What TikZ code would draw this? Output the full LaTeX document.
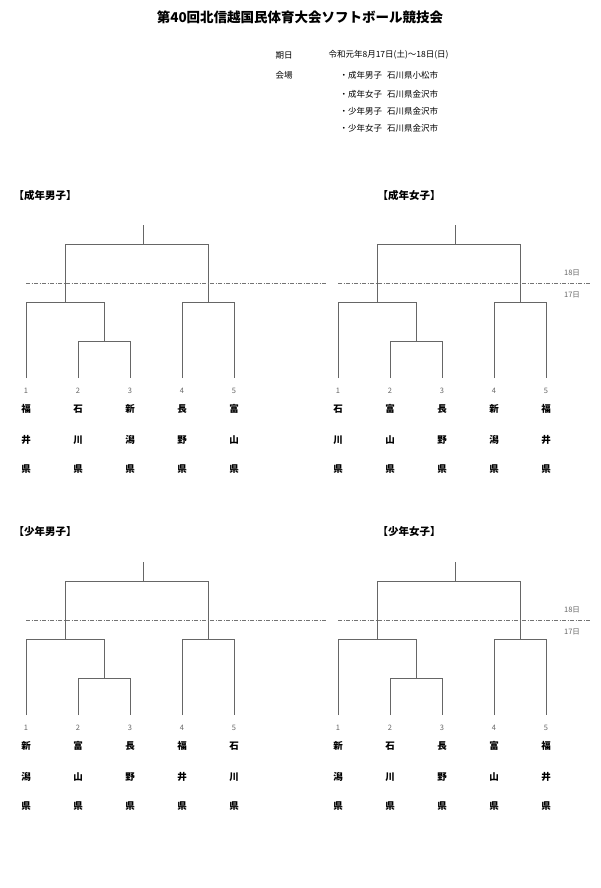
\documentclass[tikz,border=0pt]{standalone}
\usepackage{fontspec}
\setmainfont{Noto Sans CJK JP}
\begin{document}
\begin{tikzpicture}[x=1pt,y=-1pt,
  br/.style={draw=black!60,line width=0.6pt},
  dd/.style={draw=black!55,line width=0.5pt,dash pattern=on 4pt off 1.5pt on 1pt off 1.5pt},
  num/.style={font=\fontsize{7.5}{8}\selectfont,text=black!60},
  nm/.style={font=\bfseries\fontsize{9.5}{10}\selectfont},
  hd/.style={font=\bfseries\fontsize{10.5}{12}\selectfont,anchor=west},
  inf/.style={font=\fontsize{8.5}{10}\selectfont,anchor=west}]
\useasboundingbox (0,0) rectangle (600,888);
\fill[white] (0,0) rectangle (600,888);
\node[font=\bfseries\fontsize{13.5}{15}\selectfont] (title) at (300,17) {第40回北信越国民体育大会ソフトボール競技会};
\node[inf] (k1) at (272,55) {期日};
\node[inf] (k2) at (325,55) {令和元年8月17日(土)～18日(日)};
\node[inf] (k3) at (272,75) {会場};
\node[inf] (v1) at (336,75) {・成年男子\hspace{0.6em}石川県小松市};
\node[inf] (v2) at (336,94) {・成年女子\hspace{0.6em}石川県金沢市};
\node[inf] (v3) at (336,111) {・少年男子\hspace{0.6em}石川県金沢市};
\node[inf] (v4) at (336,128) {・少年女子\hspace{0.6em}石川県金沢市};
\newcommand{\mybr}[7]{%
 \begin{scope}[shift={(#1,#2)}]
 \node[hd] at (#7,0) {#3};
 \draw[br] (0,183)--(0,107)--(78,107)--(78,146);
 \draw[br] (52,183)--(52,146)--(104,146)--(104,183);
 \draw[br] (156,183)--(156,107)--(208,107)--(208,183);
 \draw[br] (39,107)--(39,49)--(182,49)--(182,107);
 \draw[br] (117,49)--(117,30);
 \draw[dd] (0,88)--(#5,88);
 \foreach \n/\a/\b/\c [count=\i from 0] in {#4} {
   \node[num] at (52*\i,196) {\n};
   \node[nm] at (52*\i,214) {\a};
   \node[nm] at (52*\i,245) {\b};
   \node[nm] at (52*\i,274) {\c};
 }
 #6
 \end{scope}}
\mybr{26}{195}{【成年男子】}{1/福/井/県,2/石/川/県,3/新/潟/県,4/長/野/県,5/富/山/県}{300}{}{-16}
\mybr{338}{195}{【成年女子】}{1/石/川/県,2/富/山/県,3/長/野/県,4/新/潟/県,5/福/井/県}{252}{\node[num] at (234,78) {18日};\node[num] at (234,100) {17日};}{36}
\mybr{26}{532}{【少年男子】}{1/新/潟/県,2/富/山/県,3/長/野/県,4/福/井/県,5/石/川/県}{300}{}{-16}
\mybr{338}{532}{【少年女子】}{1/新/潟/県,2/石/川/県,3/長/野/県,4/富/山/県,5/福/井/県}{252}{\node[num] at (234,78) {18日};\node[num] at (234,100) {17日};}{36}
\end{tikzpicture}
\end{document}
